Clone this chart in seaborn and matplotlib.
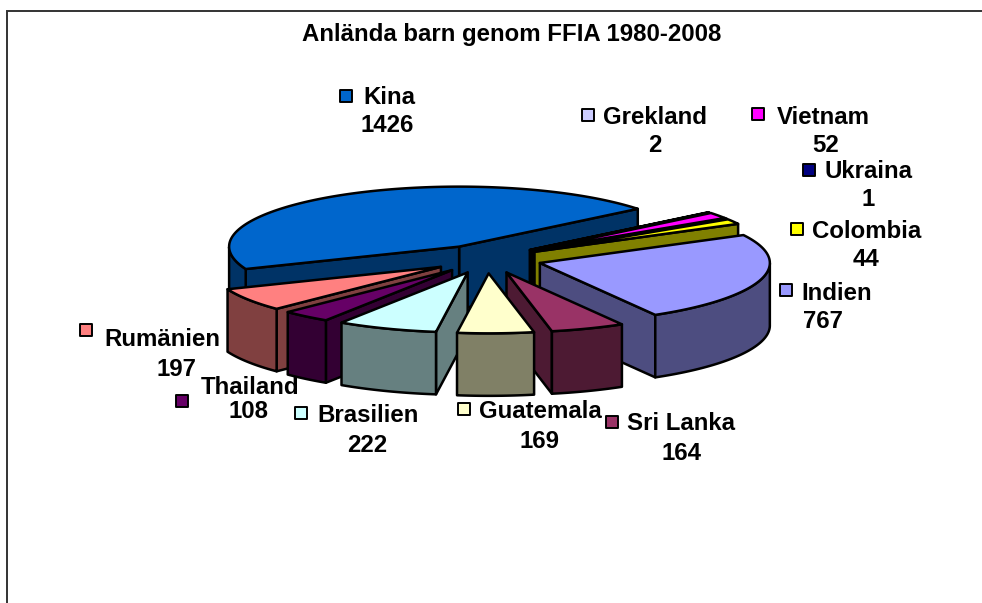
import numpy as np
import matplotlib
matplotlib.use("Agg")
import matplotlib.pyplot as plt
import seaborn as sns

# --- data ---
categories = ["Kina", "Grekland", "Vietnam", "Ukraina", "Colombia", "Indien",
              "Sri Lanka", "Guatemala", "Brasilien", "Thailand", "Rumänien"]
values = [1426, 2, 52, 1, 44, 767, 164, 169, 222, 108, 197]
title = "Anlända barn genom FFIA 1980-2008"
slice_colors = ["#0066CC", "#CCCCFF", "#FF00FF", "#000080", "#FFFF00", "#9999FF",
                "#993366", "#FFFFCC", "#CCFFFF", "#660066", "#FF8080"]

# --- layout / style ---
sns.set_theme(style="white")
plt.rcParams["font.family"] = ["Liberation Sans", "DejaVu Sans"]
palette = sns.color_palette(slice_colors)
FS = 17.3
CX, CY, RX, RY, DEPTH, EXPLODE = 487.0, 259.0, 230.0, 60.0, 62.5, 55.0
START = 201.9
# painter's order, back to front
draw_order = ["Kina", "Grekland", "Vietnam", "Ukraina", "Colombia", "Rumänien",
              "Thailand", "Indien", "Sri Lanka", "Brasilien", "Guatemala"]
# key centre, name left edge/y, value centre x/y
label_pos = {
    "Kina": (346, 96, 363, 98, 387, 126),
    "Grekland": (588, 115, 603, 117, 655, 146),
    "Vietnam": (758, 114, 777, 117, 826, 146),
    "Ukraina": (809, 170, 825, 172, 868, 200),
    "Colombia": (797, 229, 812, 232, 866, 260),
    "Indien": (786, 290, 801, 293, 823, 322),
    "Rumänien": (86, 330, 104, 340, 176, 370),
    "Thailand": (182, 401, 201, 388, 249, 412),
    "Brasilien": (301, 413, 317, 416, 367, 445),
    "Guatemala": (464, 409, 479, 412, 540, 441),
    "Sri Lanka": (612, 422, 627, 424, 682, 453),
}

fig = plt.figure(figsize=(9.82, 6.03), dpi=100)
ax = fig.add_axes([0, 0, 1, 1])
ax.set_xlim(0, 982)
ax.set_ylim(603, 0)
ax.axis("off")

# chart frame
ax.plot([7.5, 7.5, 982], [603, 11, 11], color="#333333", lw=1.4, solid_joinstyle="miter")

# slice angles come from the values, clockwise from START
vals = np.array(values, dtype=float)
sweep = vals / vals.sum() * 360.0
ends = START - np.cumsum(sweep)
starts = ends + sweep

EDGE = dict(edgecolor="black", linewidth=1.8, joinstyle="round")


def wall(xs, ys, color, z):
    px = np.concatenate([xs, xs[::-1]])
    py = np.concatenate([ys, ys[::-1] + DEPTH])
    ax.fill(px, py, facecolor=color, zorder=z, **EDGE)


for z, name in enumerate(draw_order):
    i = categories.index(name)
    a0, a1 = np.radians(ends[i]), np.radians(starts[i])
    mid = (a0 + a1) / 2
    ox = CX + EXPLODE * np.cos(mid)
    oy = CY - EXPLODE * RY / RX * np.sin(mid)
    th = np.linspace(a0, a1, 160)
    ex = ox + RX * np.cos(th)
    ey = oy - RY * np.sin(th)
    col = palette[i]
    side = tuple(c * 0.5 for c in col)
    # radial cut walls, only those facing the viewer
    if np.cos(a0) > 0:
        wall(np.array([ox, ex[0]]), np.array([oy, ey[0]]), side, 10 + z * 3)
    if np.cos(a1) < 0:
        wall(np.array([ox, ex[-1]]), np.array([oy, ey[-1]]), side, 10 + z * 3)
    # outer curved wall, only the part facing the viewer
    front = np.sin(th) < 0
    if front.any():
        wall(ex[front], ey[front], side, 11 + z * 3)
    # top face
    ax.fill(np.r_[ox, ex], np.r_[oy, ey], facecolor=col, zorder=12 + z * 3, **EDGE)

# labels
for name, val, col in zip(categories, values, palette):
    kx, ky, tx, ty, vx, vy = label_pos[name]
    ax.scatter([kx], [ky], marker="s", s=80, color=[col], edgecolors="black",
               linewidths=1.4, zorder=100)
    ax.text(tx, ty, name, ha="left", va="center", fontsize=FS, fontweight="bold",
            color="black", zorder=101)
    ax.text(vx, vy, str(val), ha="center", va="center", fontsize=FS, fontweight="bold",
            color="black", zorder=101)

ax.text(511.5, 35, title, ha="center", va="center", fontsize=FS, fontweight="bold", color="black")

fig.savefig("out.png", dpi=100, facecolor="white")
